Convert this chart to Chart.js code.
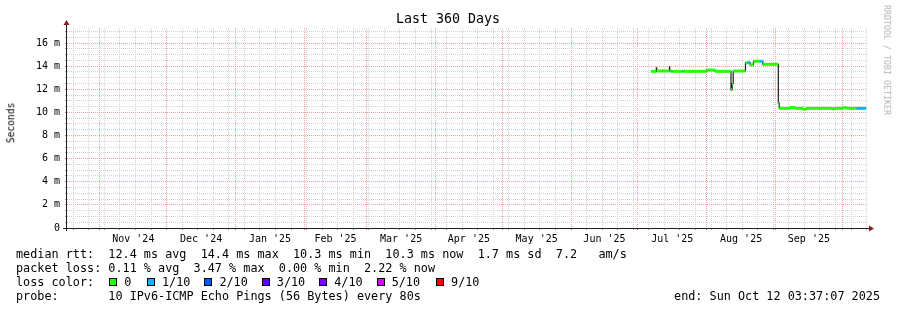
<!DOCTYPE html>
<html><head><meta charset="utf-8">
<script src="https://cdn.jsdelivr.net/npm/chart.js@4.4.1/dist/chart.umd.min.js"></script>
<style>
html,body{margin:0;padding:0;background:#fff;}
#wrap{position:relative;width:897px;height:310px;overflow:hidden;background:#fff;}
canvas{position:absolute;left:0;top:0;}
.t{position:absolute;font-family:'DejaVu Sans Mono',monospace;white-space:pre;color:#000;}
.lg{font-size:11.8px;line-height:14px;left:16px;}
.box{display:inline-block;width:6px;height:6px;border:1px solid #000;vertical-align:baseline;}
</style></head><body>
<div id="wrap">
<canvas id="c" width="897" height="310"></canvas>
<div class="t" style="left:0;width:896px;text-align:center;top:11.4px;font-size:13.3px;line-height:16px;">Last 360 Days</div>
<div class="t" style="left:10.5px;top:122.5px;font-size:9.6px;line-height:9.6px;transform:translate(-50%,-50%) rotate(-90deg);">Seconds</div>
<div class="t" style="left:886.5px;top:60px;font-size:8.3px;line-height:8.3px;color:#b4b4b4;transform:translate(-50%,-50%) rotate(90deg);">RRDTOOL / TOBI OETIKER</div>
<div class="t lg" id="l1" style="top:246.8px;"></div>
<div class="t lg" id="l2" style="top:261px;"></div>
<div class="t lg" id="l3" style="top:274.9px;"></div>
<div class="t lg" id="l4" style="top:288.6px;"></div>
<div class="t lg" id="l5" style="top:288.6px;left:auto;right:17px;"></div>
</div>
<script>
// ---- data (x: days since start of the 360-day window, y: median RTT in ms) ----
const stepDays  = [262.8, 265.2, 265.35, 271.1, 271.25, 271.8, 272.4, 277.0, 277.3, 287.9, 291.6, 298.8, 299.3, 299.8, 305.3, 306.3, 307.4, 308.9, 311.9, 313.1, 320.1, 320.5, 325.4, 327.6, 331.2, 332.6, 344.7, 345.2, 349.2, 351.0, 355.3];
const medianMs  = [13.55, 13.85, 13.58, 13.92, 13.58, 13.56, 13.55, 13.55, 13.55, 13.66, 13.55, 11.95, 12.5, 13.58, 14.28, 14.30, 14.12, 14.42, 14.42, 14.16, 10.80, 10.35, 10.42, 10.35, 10.27, 10.35, 10.28, 10.35, 10.40, 10.35, 10.35];
const lossCount = [0, 0, 0, 0, 0, 1, 0, 1, 0, 0, 0, 0, 0, 0, 0, 1, 0, 0, 1, 0, 0, 0, 0, 0, 0, 0, 0, 0, 0, 0, 1];
const endDay = 359.6;

const monthLabels = ["Nov '24","Dec '24","Jan '25","Feb '25","Mar '25","Apr '25","May '25","Jun '25","Jul '25","Aug '25","Sep '25"];
const yTickLabels = ["0","2 m","4 m","6 m","8 m","10 m","12 m","14 m","16 m"];
const lossLevels = [0, 1, 2, 3, 4, 5, 9];
const lossNames  = ["0","1/10","2/10","3/10","4/10","5/10","9/10"];
const lossColors = ["#26ff00","#00b8ff","#0059ff","#5e00ff","#7e00ff","#dd00ff","#ff0000"];

const legendRtt   = "median rtt:  12.4 ms avg  14.4 ms max  10.3 ms min  10.3 ms now  1.7 ms sd  7.2   am/s";
const legendLoss  = "packet loss: 0.11 % avg  3.47 % max  0.00 % min  2.22 % now";
const legendProbe = "probe:       10 IPv6-ICMP Echo Pings (56 Bytes) every 80s";
const legendEnd   = "end: Sun Oct 12 03:37:07 2025";

// ---- time helpers ----
const START = Date.UTC(2024, 9, 17, 3, 37, 7);
const DAY = 86400000;
const dayOf = (y, m, d) => (Date.UTC(y, m, d) - START) / DAY;

const monthStarts = [];
for (let k = 0; k < 12; k++) monthStarts.push(dayOf(2024, 10 + k, 1));
const weekStarts = [];
for (let w = 0; dayOf(2024, 9, 20 + 7 * w) < 360; w++) weekStarts.push(dayOf(2024, 9, 20 + 7 * w));
const labelDays = monthLabels.map((_, i) => (monthStarts[i] + monthStarts[i + 1]) / 2);

const near = (arr, v) => arr.findIndex(a => Math.abs(a - v) < 1e-6);
const xTickValues = [...weekStarts, ...monthStarts, ...labelDays].sort((a, b) => a - b);

const yTickValues = [];
for (let i = 0; i <= 34; i++) yTickValues.push(i * 0.0005);

function colorOf(loss) {
  let c = lossColors[0];
  lossLevels.forEach((lv, i) => { if (loss >= lv) c = lossColors[i]; });
  return c;
}

// black median (stepped) line
const medianLine = stepDays.map((d, i) => ({x: d, y: medianMs[i] / 1000}));
medianLine.push({x: endDay, y: medianMs[medianMs.length - 1] / 1000});

// loss-coloured pieces (horizontal parts only)
const colPieces = [], pieceLoss = [];
stepDays.forEach((d, i) => {
  const next = i + 1 < stepDays.length ? stepDays[i + 1] : endDay;
  const y = medianMs[i] / 1000;
  colPieces.push({x: d, y}); pieceLoss.push(lossCount[i]);
  colPieces.push({x: next, y}); pieceLoss.push(lossCount[i]);
  colPieces.push({x: next, y: null}); pieceLoss.push(lossCount[i]);
});

// ---- legend text ----
document.getElementById('l1').textContent = legendRtt;
document.getElementById('l2').textContent = legendLoss;
document.getElementById('l4').textContent = legendProbe;
document.getElementById('l5').textContent = legendEnd;
const l3 = document.getElementById('l3');
l3.appendChild(document.createTextNode("loss color:  "));
lossNames.forEach((name, i) => {
  const b = document.createElement('span');
  b.className = 'box';
  b.style.background = lossColors[i];
  b.style.marginLeft = i === 0 ? '1px' : (i === lossNames.length - 1 ? '2px' : '0');
  b.style.marginRight = '7px';
  l3.appendChild(b);
  const s = document.createElement('span');
  s.textContent = name;
  s.style.marginRight = i === 0 ? '15.5px' : '14px';
  l3.appendChild(s);
});

// ---- axes decoration (axis lines + arrows) ----
const axisPlugin = {
  id: 'rrdAxes',
  afterDraw(chart) {
    const {ctx, chartArea: a} = chart;
    ctx.save();
    ctx.strokeStyle = '#1f1f1f';
    ctx.lineWidth = 1;
    ctx.beginPath();
    ctx.moveTo(a.left - 0.5, a.bottom + 3);
    ctx.lineTo(a.left - 0.5, a.top - 3);
    ctx.moveTo(a.left - 4, a.bottom + 0.5);
    ctx.lineTo(a.right + 2, a.bottom + 0.5);
    ctx.stroke();
    ctx.fillStyle = '#7f1f1f';
    ctx.beginPath();
    ctx.moveTo(a.left - 0.5, a.top - 8);
    ctx.lineTo(a.left - 3.5, a.top - 3);
    ctx.lineTo(a.left + 2.5, a.top - 3);
    ctx.closePath();
    ctx.fill();
    ctx.beginPath();
    ctx.moveTo(a.right + 7, a.bottom + 0.5);
    ctx.lineTo(a.right + 2, a.bottom - 2.5);
    ctx.lineTo(a.right + 2, a.bottom + 3.5);
    ctx.closePath();
    ctx.fill();
    ctx.restore();
  }
};

const MINOR = '#d2d2d2', MAJOR = '#f2a0a0', NONE = 'rgba(0,0,0,0)';
const MINOR_TICK = '#a0a0a0', MAJOR_TICK = '#e07070';
const tickFont = {family: "'DejaVu Sans Mono', monospace", size: 10};
const xKind = v => (near(monthStarts, v) >= 0 ? 'major' : near(weekStarts, v) >= 0 ? 'minor' : 'none');

new Chart(document.getElementById('c'), {
  type: 'line',
  data: {
    datasets: [
      {
        data: colPieces,
        borderWidth: 3,
        borderCapStyle: 'butt',
        pointRadius: 0,
        spanGaps: false,
        borderColor: '#26ff00',
        segment: { borderColor: ctx => colorOf(pieceLoss[ctx.p0DataIndex]) },
        order: 0
      },
      {
        data: medianLine,
        stepped: true,
        borderWidth: 1.2,
        borderColor: '#202020',
        pointRadius: 0,
        order: 1
      }
    ]
  },
  plugins: [axisPlugin],
  options: {
    responsive: false,
    animation: false,
    events: [],
    layout: {padding: {left: 0, right: 30, top: 28, bottom: 0}},
    plugins: {legend: {display: false}, tooltip: {enabled: false}, title: {display: false}},
    scales: {
      x: {
        type: 'linear', min: 0, max: 360,
        afterFit: s => { s.height = 82; },
        afterBuildTicks: s => { s.ticks = xTickValues.map(v => ({value: v})); },
        ticks: {
          autoSkip: false, maxRotation: 0, minRotation: 0, padding: 3,
          color: '#000', font: tickFont,
          callback: v => { const k = near(labelDays, v); return k >= 0 ? monthLabels[k] : ''; }
        },
        grid: {
          drawTicks: true, tickLength: 2, lineWidth: 1,
          color: ctx => {
            const k = xKind(ctx.tick ? ctx.tick.value : NaN);
            return k === 'major' ? MAJOR : k === 'minor' ? MINOR : NONE;
          },
          tickColor: ctx => {
            const k = xKind(ctx.tick ? ctx.tick.value : NaN);
            return k === 'major' ? MAJOR_TICK : k === 'minor' ? MINOR_TICK : NONE;
          }
        },
        border: {display: false, dash: [1, 1]}
      },
      y: {
        type: 'linear', min: 0, max: 0.0173,
        afterFit: s => { s.width = 67; },
        afterBuildTicks: s => { s.ticks = yTickValues.map(v => ({value: v})); },
        ticks: {
          autoSkip: false, padding: 5, color: '#000', font: tickFont,
          callback: (v, i) => (i % 4 === 0 ? yTickLabels[i / 4] : '')
        },
        grid: {
          drawTicks: true, tickLength: 2, lineWidth: 1,
          color: ctx => (ctx.index % 4 === 0 ? MAJOR : MINOR),
          tickColor: ctx => (ctx.index % 4 === 0 ? MAJOR_TICK : MINOR_TICK)
        },
        border: {display: false, dash: [1, 1]}
      }
    }
  }
});
</script>
</body></html>
